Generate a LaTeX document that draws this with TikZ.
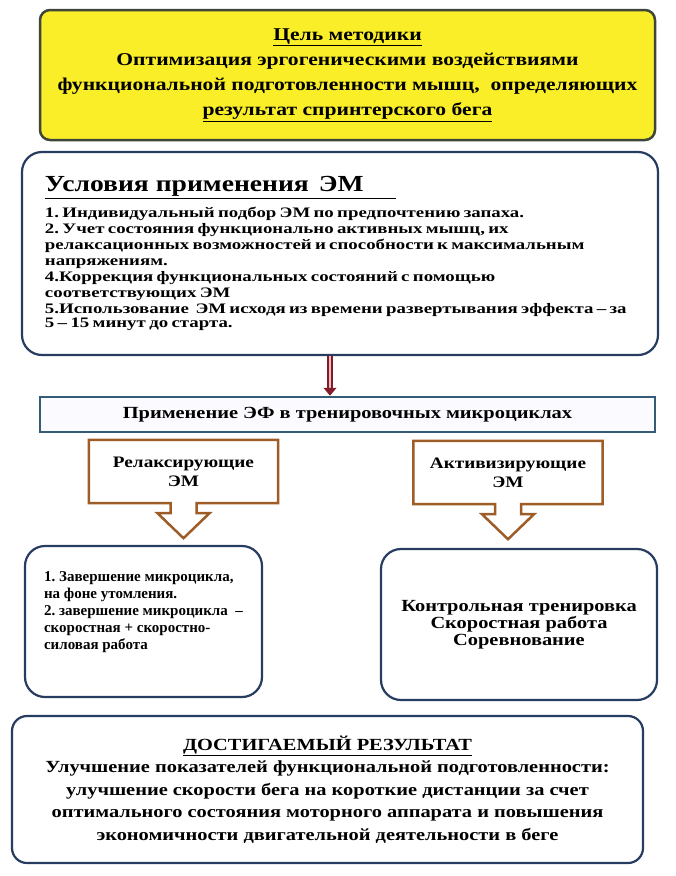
\documentclass[tikz,border=0pt]{standalone}
\usepackage{fontspec}
\setmainfont[FakeStretch=1.2]{Liberation Serif}
\newfontfamily\widefont[FakeStretch=1.3]{Liberation Serif}
\newfontfamily\narrowfont{Liberation Serif}
\frenchspacing
\usetikzlibrary{arrows.meta, positioning, calc}
\definecolor{goalyellow}{RGB}{250,238,40}
\definecolor{goalframe}{RGB}{62,70,58}
\definecolor{framenavy}{RGB}{38,60,96}
\definecolor{barteal}{RGB}{52,92,118}
\definecolor{calloutbrown}{RGB}{158,92,38}
\definecolor{arrowred}{RGB}{130,28,40}
\definecolor{arrowpink}{RGB}{236,190,196}

\begin{document}
\begin{tikzpicture}[x=1pt, y=-1pt,
        goal/.style={rectangle, rounded corners=10pt, draw=goalframe, line width=2.5pt, fill=goalyellow,
                    minimum width=615pt, minimum height=130pt, align=center,
                    font=\fontsize{18}{25}\selectfont\bfseries},
        bigbox/.style={rectangle, rounded corners=20pt, draw=framenavy, line width=2.2pt, fill=white,
                    inner sep=0pt},
        bar/.style={rectangle, draw=barteal, line width=2.5pt, fill=blue!2,
                    minimum width=615pt, minimum height=35pt, font=\fontsize{17}{19}\selectfont\bfseries},
        callout/.style={rectangle, minimum width=189pt, minimum height=63pt, align=center,
                    font=\fontsize{16}{19}\selectfont\bfseries},
        calloutline/.style={draw=calloutbrown, line width=2.5pt, fill=white, line join=miter},
        thinarrow/.style={draw=arrowred, double=arrowpink, double distance=2.5pt, line width=1.3pt,
                    -{Triangle[length=8pt, width=13pt]}}
    ]
        \useasboundingbox (0,0) rectangle (676,876);

        \node[goal] (goal) at (347.5,75) {\underline{Цель методики} \\ Оптимизация эргогеническими воздействиями \\
            функциональной подготовленности мышц,\ \ определяющих \\ \underline{результат спринтерского бега}};

        \node[bigbox, minimum width=636pt, minimum height=203pt, text width=590pt, align=left] (cond) at (340,253.5)
            {{\fontsize{23}{26}\selectfont\bfseries\underline{Условия\hspace{7pt}применения\hspace{10pt}ЭМ\hspace{32pt}}}\\[8pt]
            \widefont\fontsize{14.5}{16}\selectfont\bfseries
            1. Индивидуальный подбор ЭМ по предпочтению запаха. \\
            2. Учет состояния функционально активных мышц, их \\
            релаксационных возможностей и способности к максимальным \\
            напряжениям. \\
            4.Коррекция функциональных состояний с помощью \\
            соответствующих ЭМ \\
            5.Использование\ \ ЭМ исходя из времени развертывания эффекта – за \\
            5 – 15 минут до старта.};

        \coordinate (arrowtop) at ($(cond.south)+(-10,0)$);
        \node[bar] (apply) at (347.5,414.5) {Применение ЭФ в тренировочных микроциклах};
        \draw[thinarrow] (arrowtop) -- (arrowtop |- apply.north);

        \node[callout] (relax) at (183.5,471.5) {};
        \node[callout] (activ) at (508,472.5) {};
        \foreach \n in {relax,activ}
            \draw[calloutline] (\n.south west) -- (\n.north west) -- (\n.north east) -- (\n.south east)
                -- ($(\n.south)+(13,0)$) -- ++(0,10) -- ++(13,0) -- ++(-26,25) -- ++(-26,-25)
                -- ++(13,0) -- ++(0,-10) -- cycle;
        \node[callout] at (relax) {Релаксирующие \\ ЭМ};
        \node[callout] at (activ) {Активизирующие \\ ЭМ};

        \node[bigbox, minimum width=237pt, minimum height=151pt, align=left,
              font=\narrowfont\fontsize{15}{17}\selectfont\bfseries] (relaxbox) at (143.5,621.5)
            {1. Завершение микроцикла, \\ на фоне утомления. \\ 2. завершение микроцикла\ \ – \\
             скоростная + скоростно- \\ силовая работа \\[4pt]};
        \node[bigbox, minimum width=276pt, minimum height=151pt, align=center,
              font=\fontsize{17}{17}\selectfont\bfseries] (activbox) at (519,624.5)
            {Контрольная тренировка \\ Скоростная работа \\ Соревнование};

        \node[bigbox, rounded corners=15pt, minimum width=631pt, minimum height=147pt, align=center,
              font=\fontsize{17}{22.5}\selectfont\bfseries] (result) at (327.5,789.5)
            {\underline{ДОСТИГАЕМЫЙ РЕЗУЛЬТАТ} \\ Улучшение показателей функциональной подготовленности: \\
             улучшение скорости бега на короткие дистанции за счет \\
             оптимального состояния моторного аппарата и повышения \\
             экономичности двигательной деятельности в беге};
    \end{tikzpicture}
\end{document}
